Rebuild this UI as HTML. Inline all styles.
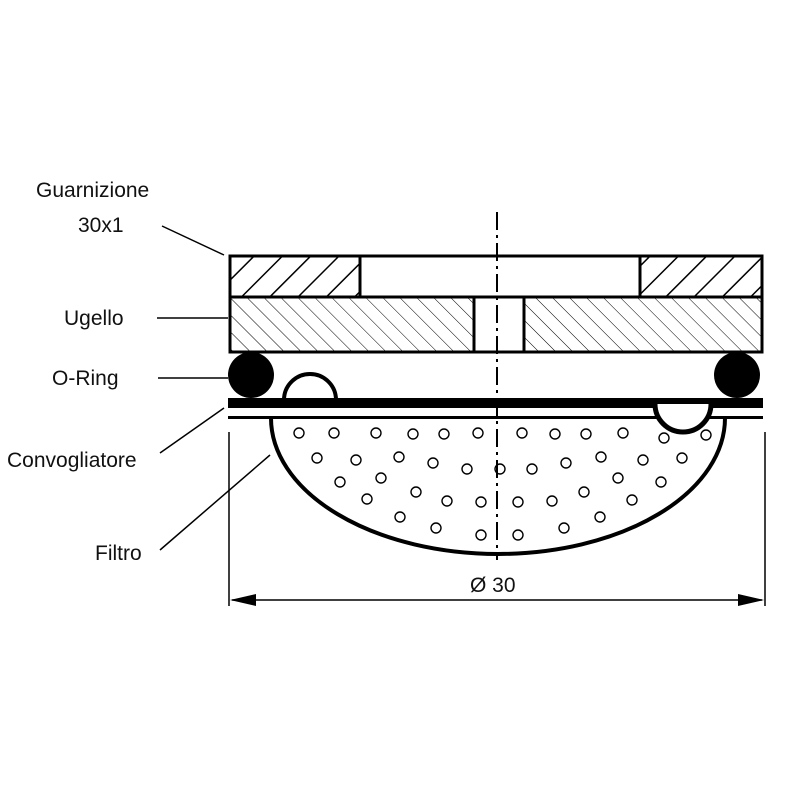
<!DOCTYPE html>
<html><head><meta charset="utf-8"><style>
html,body{margin:0;padding:0;background:#fff;}
svg{display:block}
text{font-family:"Liberation Sans",Arial,sans-serif;font-size:21px;fill:#111}
</style></head><body>
<svg width="800" height="800" viewBox="0 0 800 800" xmlns="http://www.w3.org/2000/svg">
<defs>
<pattern id="h1" patternUnits="userSpaceOnUse" width="20" height="20" patternTransform="rotate(45)">
<line x1="0" y1="0" x2="0" y2="20" stroke="#000" stroke-width="3"/></pattern>
<pattern id="h2" patternUnits="userSpaceOnUse" width="12" height="12" patternTransform="rotate(-45)">
<line x1="0" y1="0" x2="0" y2="12" stroke="#000" stroke-width="1"/></pattern>
</defs>
<text x="36" y="197">Guarnizione</text>
<text x="78" y="232">30x1</text>
<text x="64" y="325">Ugello</text>
<text x="52" y="385">O-Ring</text>
<text x="7" y="467">Convogliatore</text>
<text x="95" y="560">Filtro</text>
<g stroke="#000" stroke-width="1.5" fill="none">
<line x1="162" y1="226" x2="224" y2="255"/>
<line x1="157" y1="318" x2="228" y2="318"/>
<line x1="158" y1="378" x2="228" y2="378"/>
<line x1="160" y1="453" x2="224" y2="408"/>
<line x1="160" y1="550" x2="270" y2="455"/>
</g>
<rect x="230" y="256" width="130" height="41" fill="url(#h1)" stroke="#000" stroke-width="3"/>
<rect x="640" y="256" width="122" height="41" fill="url(#h1)" stroke="#000" stroke-width="3"/>
<rect x="230" y="256" width="532" height="41" fill="none" stroke="#000" stroke-width="3"/>
<rect x="230" y="297" width="244" height="55" fill="url(#h2)" stroke="#000" stroke-width="3"/>
<rect x="524" y="297" width="238" height="55" fill="url(#h2)" stroke="#000" stroke-width="3"/>
<rect x="230" y="297" width="532" height="55" fill="none" stroke="#000" stroke-width="3"/>
<path d="M271 418 A227 136 0 0 0 725 418" fill="#fff" stroke="#000" stroke-width="4"/>
<g fill="none" stroke="#000" stroke-width="1.4">
<circle cx="299" cy="433" r="5"/><circle cx="334" cy="433" r="5"/><circle cx="376" cy="433" r="5"/><circle cx="413" cy="434" r="5"/><circle cx="444" cy="434" r="5"/><circle cx="478" cy="433" r="5"/><circle cx="522" cy="433" r="5"/><circle cx="555" cy="434" r="5"/><circle cx="586" cy="434" r="5"/><circle cx="623" cy="433" r="5"/><circle cx="664" cy="438" r="5"/><circle cx="706" cy="435" r="5"/>
<circle cx="317" cy="458" r="5"/><circle cx="356" cy="460" r="5"/><circle cx="399" cy="457" r="5"/><circle cx="433" cy="463" r="5"/><circle cx="467" cy="469" r="5"/><circle cx="500" cy="469" r="5"/><circle cx="532" cy="469" r="5"/><circle cx="566" cy="463" r="5"/><circle cx="601" cy="457" r="5"/><circle cx="643" cy="460" r="5"/><circle cx="682" cy="458" r="5"/>
<circle cx="340" cy="482" r="5"/><circle cx="381" cy="478" r="5"/><circle cx="416" cy="492" r="5"/><circle cx="447" cy="501" r="5"/><circle cx="481" cy="502" r="5"/><circle cx="518" cy="502" r="5"/><circle cx="552" cy="501" r="5"/><circle cx="584" cy="492" r="5"/><circle cx="618" cy="478" r="5"/><circle cx="661" cy="482" r="5"/>
<circle cx="367" cy="499" r="5"/><circle cx="400" cy="517" r="5"/><circle cx="436" cy="528" r="5"/><circle cx="481" cy="535" r="5"/><circle cx="518" cy="535" r="5"/><circle cx="564" cy="528" r="5"/><circle cx="600" cy="517" r="5"/><circle cx="632" cy="500" r="5"/>
</g>
<rect x="228" y="398" width="535" height="10" fill="#000"/>
<rect x="228" y="416" width="535" height="3" fill="#000"/>
<path d="M284 400 A26 26 0 0 1 336 400 Z" fill="#fff" stroke="#000" stroke-width="4"/>
<path d="M655 404 A28 28 0 0 0 711 404" fill="#fff" stroke="#000" stroke-width="5"/>
<circle cx="251" cy="375" r="23" fill="#000"/>
<circle cx="737" cy="375" r="23" fill="#000"/>
<line x1="497" y1="212" x2="497" y2="560" stroke="#000" stroke-width="2" stroke-dasharray="18,5,3,5"/>
<g stroke="#000" stroke-width="1.5">
<line x1="229" y1="432" x2="229" y2="606"/>
<line x1="765" y1="432" x2="765" y2="606"/>
<line x1="232" y1="600" x2="762" y2="600"/>
</g>
<polygon points="230,600 256,594 256,606" fill="#000"/>
<polygon points="764,600 738,594 738,606" fill="#000"/>
<text x="470" y="592">Ø 30</text>
</svg>
</body></html>
